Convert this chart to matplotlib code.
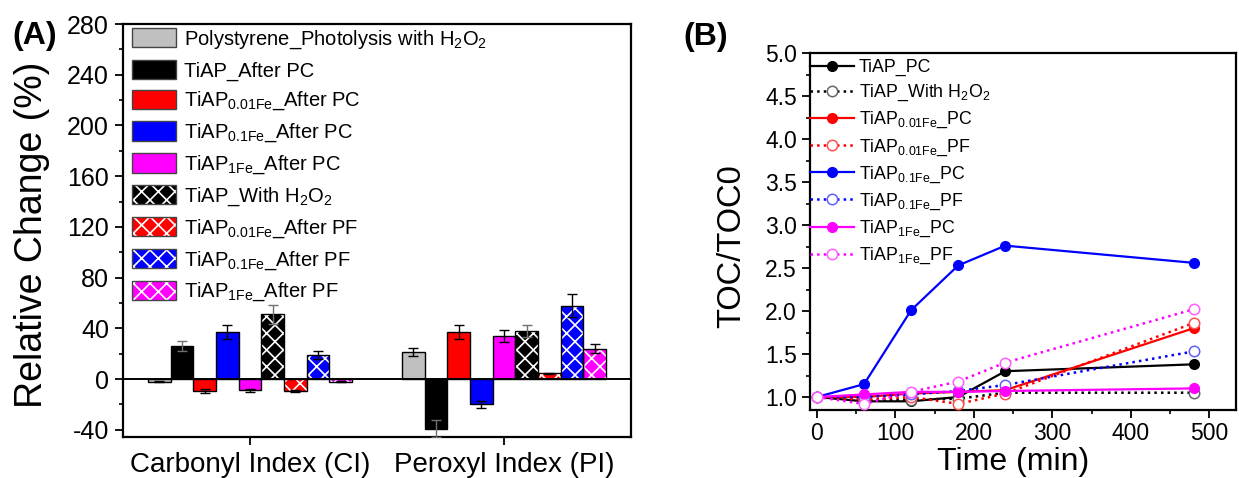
import matplotlib
matplotlib.use("Agg")
import matplotlib.pyplot as plt
import numpy as np
from matplotlib.patches import Patch
from matplotlib.legend_handler import HandlerTuple
from matplotlib.ticker import MultipleLocator, FormatStrFormatter

plt.rcParams['font.family'] = ['Liberation Sans', 'DejaVu Sans']
plt.rcParams['mathtext.fontset'] = 'custom'
plt.rcParams['mathtext.rm'] = 'Liberation Sans'
plt.rcParams['mathtext.it'] = 'Liberation Sans:italic'
plt.rcParams['mathtext.default'] = 'regular'
plt.rcParams['hatch.linewidth'] = 1.2
plt.rcParams['axes.unicode_minus'] = False

# ---------------- Panel A data ----------------
categories = ["Carbonyl Index (CI)", "Peroxyl Index (PI)"]
bar_labels = [
    "Polystyrene_Photolysis with H$_2$O$_2$",
    "TiAP_After PC",
    "TiAP$_{0.01Fe}$_After PC",
    "TiAP$_{0.1Fe}$_After PC",
    "TiAP$_{1Fe}$_After PC",
    "TiAP_With H$_2$O$_2$",
    "TiAP$_{0.01Fe}$_After PF",
    "TiAP$_{0.1Fe}$_After PF",
    "TiAP$_{1Fe}$_After PF",
]
bar_colors = ["#c0c0c0", "#000000", "#ff0000", "#0000ff", "#ff00ff",
              "#000000", "#ff0000", "#0000ff", "#ff00ff"]
bar_hatched = [False, False, False, False, False, True, True, True, True]
# values per series: [CI, PI]
ps_h2o2 = [-2.0, 21.5]
tiap_pc = [26.0, -39.0]
tiap001_pc = [-9.5, 37.0]
tiap01_pc = [37.0, -20.0]
tiap1_pc = [-9.0, 34.0]
tiap_h2o2 = [51.0, 38.0]
tiap001_pf = [-9.5, 4.5]
tiap01_pf = [19.0, 58.0]
tiap1_pf = [-2.0, 24.0]
bar_values = [ps_h2o2, tiap_pc, tiap001_pc, tiap01_pc, tiap1_pc,
              tiap_h2o2, tiap001_pf, tiap01_pf, tiap1_pf]
# error bars
ps_h2o2_err = [0.5, 3.0]
tiap_pc_err = [4.0, 6.5]
tiap001_pc_err = [1.5, 5.5]
tiap01_pc_err = [5.5, 2.5]
tiap1_pc_err = [1.0, 5.0]
tiap_h2o2_err = [7.5, 5.0]
tiap001_pf_err = [1.0, 0.5]
tiap01_pf_err = [3.0, 9.0]
tiap1_pf_err = [0.5, 3.5]
bar_errors = [ps_h2o2_err, tiap_pc_err, tiap001_pc_err, tiap01_pc_err, tiap1_pc_err,
              tiap_h2o2_err, tiap001_pf_err, tiap01_pf_err, tiap1_pf_err]

# ---------------- Panel B data ----------------
time_min = [0, 60, 120, 180, 240, 480]
toc_tiap_pc = [1.0, 0.95, 0.95, 1.00, 1.30, 1.38]
toc_tiap_h2o2 = [1.0, 0.96, 0.97, 0.98, 1.05, 1.05]
toc_001_pc = [1.0, 1.00, 1.04, 1.06, 1.08, 1.80]
toc_001_pf = [1.0, 0.97, 1.00, 0.92, 1.04, 1.86]
toc_01_pc = [1.0, 1.15, 2.01, 2.53, 2.76, 2.56]
toc_01_pf = [1.0, 1.00, 1.03, 1.07, 1.14, 1.53]
toc_1_pc = [1.0, 1.03, 1.06, 1.06, 1.07, 1.10]
toc_1_pf = [1.0, 0.92, 1.06, 1.18, 1.40, 2.02]
line_labels = ["TiAP_PC", "TiAP_With H$_2$O$_2$", "TiAP$_{0.01Fe}$_PC", "TiAP$_{0.01Fe}$_PF",
               "TiAP$_{0.1Fe}$_PC", "TiAP$_{0.1Fe}$_PF", "TiAP$_{1Fe}$_PC", "TiAP$_{1Fe}$_PF"]
line_values = [toc_tiap_pc, toc_tiap_h2o2, toc_001_pc, toc_001_pf,
               toc_01_pc, toc_01_pf, toc_1_pc, toc_1_pf]
line_colors = ["#000000", "#000000", "#ff0000", "#ff0000", "#0000ff", "#0000ff", "#ff00ff", "#ff00ff"]
hollow_edge = {"#000000": "#666666", "#ff0000": "#ff5050", "#0000ff": "#6060ff", "#ff00ff": "#ff60ff"}

W, H = 1239, 478
fig = plt.figure(figsize=(W / 100, H / 100), dpi=100)

# ================= Panel A =================
ax1 = fig.add_axes([123 / W, (H - 437) / H, (631 - 123) / W, (437 - 24) / H])
nser = len(bar_values)
bw = 0.0893
xc = np.arange(len(categories))
for i in range(nser):
    x = xc + (i - (nser - 1) / 2) * bw
    vals = bar_values[i]
    if bar_hatched[i]:
        ax1.bar(x, vals, bw, color=bar_colors[i], edgecolor='white', hatch='xx', linewidth=0, zorder=2)
        ax1.bar(x, vals, bw, fill=False, edgecolor='black', linewidth=1.0, zorder=3)
    else:
        ax1.bar(x, vals, bw, color=bar_colors[i], edgecolor='black', linewidth=1.0, zorder=2)
    ec = '#707070' if bar_colors[i] == '#000000' else 'black'
    ax1.errorbar(x, vals, yerr=bar_errors[i], fmt='none', ecolor=ec, elinewidth=1.0,
                 capsize=3.5, capthick=1.0, zorder=4)
ax1.axhline(0, color='black', lw=1.4, zorder=5)
ax1.set_xlim(-0.5, 1.5)
ax1.set_ylim(-45.7, 280)
ax1.set_xticks(xc)
ax1.set_xticklabels(categories, fontsize=20)
ax1.yaxis.set_major_locator(MultipleLocator(40))
ax1.yaxis.set_minor_locator(MultipleLocator(20))
ax1.tick_params(axis='both', which='major', direction='out', length=6, width=1.3, labelsize=18, pad=4)
ax1.tick_params(axis='x', pad=5, labelsize=20)
ax1.tick_params(axis='y', which='minor', direction='out', length=3, width=1.2)
for s in ax1.spines.values():
    s.set_linewidth(1.6)

handles1 = []
for i in range(nser):
    if bar_hatched[i]:
        h = (Patch(facecolor=bar_colors[i], edgecolor='white', hatch='xx', linewidth=0),
             Patch(facecolor='none', edgecolor='#444444', linewidth=1.0))
    else:
        h = Patch(facecolor=bar_colors[i], edgecolor='#444444', linewidth=1.0)
    handles1.append(h)
ax1.legend(handles1, bar_labels, loc='upper left', bbox_to_anchor=(132 / W, 1 - 28 / H),
           bbox_transform=fig.transFigure, frameon=False, fontsize=14.5, borderpad=0,
           borderaxespad=0, handlelength=2.2, handleheight=1.1, handletextpad=0.4,
           labelspacing=0.45, handler_map={tuple: HandlerTuple(ndivide=1)})

fig.text(12 / W, 1 - 36 / H, "(A)", fontsize=23, fontweight='bold', ha='left', va='center')
fig.text(32 / W, 1 - 235 / H, "Relative Change (%)", fontsize=27, rotation=90, ha='center', va='center')

# ================= Panel B =================
ax2 = fig.add_axes([810 / W, (H - 410) / H, (1236 - 810) / W, (410 - 53) / H])
for i in range(len(line_values)):
    c = line_colors[i]
    if i % 2 == 0:
        ax2.plot(time_min, line_values[i], '-', color=c, lw=1.6, marker='o', ms=7,
                 mfc=c, mec=c, label=line_labels[i], zorder=3 + i)
    else:
        ax2.plot(time_min, line_values[i], ':', color=c, lw=1.8, marker='o', ms=7.5,
                 mfc='white', mec=hollow_edge[c], mew=1.1, label=line_labels[i], zorder=3 + i)
ax2.set_xlim(-8.9, 534)
ax2.set_ylim(0.849, 5.0)
ax2.xaxis.set_major_locator(MultipleLocator(100))
ax2.xaxis.set_minor_locator(MultipleLocator(50))
ax2.yaxis.set_major_locator(MultipleLocator(0.5))
ax2.yaxis.set_minor_locator(MultipleLocator(0.25))
ax2.yaxis.set_major_formatter(FormatStrFormatter('%.1f'))
ax2.tick_params(axis='both', which='major', direction='out', length=6, width=1.3, labelsize=16.5, pad=3.5)
ax2.tick_params(axis='x', which='major', pad=2.5)
ax2.tick_params(axis='both', which='minor', direction='out', length=3, width=1.2)
for s in ax2.spines.values():
    s.set_linewidth(1.6)
ax2.legend(loc='upper left', bbox_to_anchor=(810 / W, 1 - 59 / H), bbox_transform=fig.transFigure,
           frameon=False, fontsize=12.8, borderpad=0, borderaxespad=0, handlelength=2.5,
           handletextpad=0.25, labelspacing=0.38)

fig.text(683 / W, 1 - 37 / H, "(B)", fontsize=23, fontweight='bold', ha='left', va='center')
fig.text(732 / W, 1 - 246 / H, "TOC/TOC0", fontsize=23.5, rotation=90, ha='center', va='center')
fig.text(1013 / W, 1 - 462 / H, "Time (min)", fontsize=23, ha='center', va='center')

fig.savefig("out.png", dpi=100)
